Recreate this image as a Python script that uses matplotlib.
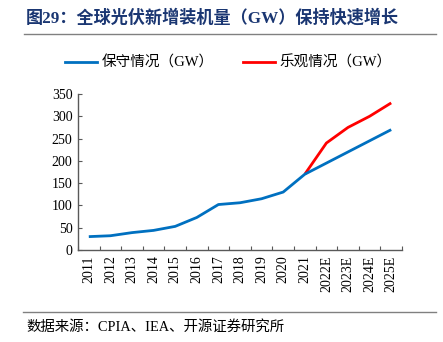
import matplotlib
matplotlib.use("Agg")
import matplotlib.pyplot as plt
from matplotlib.lines import Line2D

plt.rcParams['font.family'] = ['Liberation Serif', 'Noto Sans CJK SC']

# Annual new PV installations, GW
years = ['2011', '2012', '2013', '2014', '2015', '2016', '2017', '2018',
         '2019', '2020', '2021', '2022E', '2023E', '2024E', '2025E']
conservative = [30, 32, 39, 44, 53, 73, 102, 106, 115, 130, 170, 195, 220, 245, 270]
optimistic_years = ['2021', '2022E', '2023E', '2024E', '2025E']
optimistic = [170, 240, 275, 300, 330]

title = '图29：全球光伏新增装机量（GW）保持快速增长'
source = '数据来源：CPIA、IEA、开源证券研究所'

fig = plt.figure(figsize=(4.43, 3.42), dpi=100)
W, H = 443, 342
ax = fig.add_axes([78 / W, (H - 250) / H, (402 - 78) / W, (250 - 94) / H])

xs = list(range(len(years)))
opt_x = [years.index(y) for y in optimistic_years]

ax.plot(opt_x, optimistic, color='#FF0000', lw=2, solid_capstyle='butt', zorder=3)
ax.plot(xs, conservative, color='#0070C0', lw=2, solid_capstyle='butt', zorder=4)

ax.set_xlim(-0.5, len(years) - 0.5)
ax.set_ylim(0, 350)
ax.set_yticks(range(0, 351, 50))

# ticks sit between categories, labels at category centres
ax.set_xticks([i - 0.5 for i in range(len(years) + 1)])
ax.set_xticklabels([])
ax.set_xticks(xs, minor=True)
ax.set_xticklabels(years, minor=True, rotation=90, fontsize=10)
ax.tick_params(axis='x', which='minor', length=0, pad=4)
ax.tick_params(axis='x', which='major', direction='in', length=3, color='#595959')
ax.tick_params(axis='y', direction='in', length=3, color='#595959', labelsize=10, pad=4)

for side in ('top', 'right'):
    ax.spines[side].set_visible(False)
for side in ('left', 'bottom'):
    ax.spines[side].set_color('#595959')
    ax.spines[side].set_linewidth(1)

handles = [Line2D([], [], color='#0070C0', lw=2),
           Line2D([], [], color='#FF0000', lw=2)]
fig.legend(handles, ['保守情况（GW）', '乐观情况（GW）'],
           loc='center', bbox_to_anchor=(228 / W, (H - 63) / H), ncol=2,
           frameon=False, fontsize=10.5, handlelength=2.2, columnspacing=2.0,
           handletextpad=0.3, borderpad=0)

fig.text(26 / W, (H - 18) / H, title, fontsize=12.3, fontweight='bold',
         color='#1A3672', va='center', ha='left')
fig.add_artist(Line2D([24 / W, 436 / W], [(H - 33.5) / H] * 2,
                      color='#808080', lw=1))
fig.add_artist(Line2D([23 / W, 436 / W], [(H - 311.5) / H] * 2,
                      color='#808080', lw=1))
fig.text(26 / W, (H - 327) / H, source, fontsize=10.4, va='center', ha='left')

fig.savefig('out.png', dpi=100)
